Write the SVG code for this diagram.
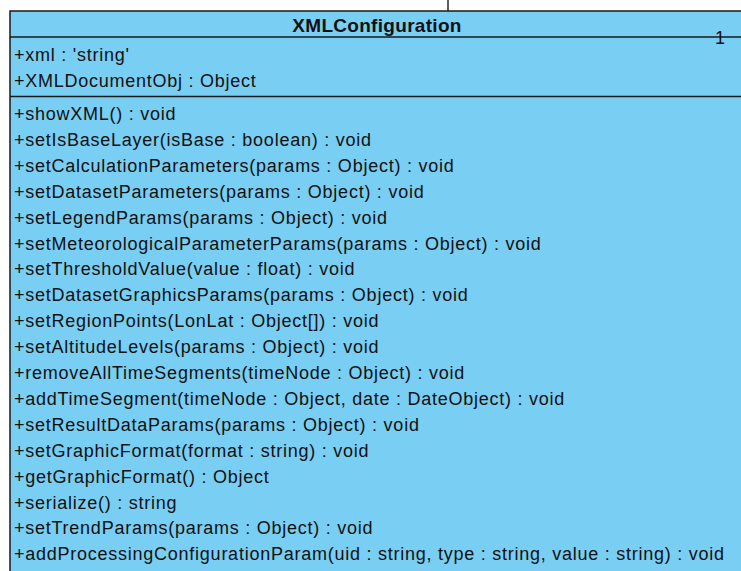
<svg xmlns="http://www.w3.org/2000/svg" width="741" height="571" viewBox="0 0 741 571">
<style>
.t{font-family:"Liberation Sans",Arial,sans-serif;font-size:18px;letter-spacing:0.75px;fill:#111}
.title{font-family:"Liberation Sans",Arial,sans-serif;font-size:19px;font-weight:bold;letter-spacing:0.3px;fill:#111}
.ln{stroke:#1a1a1a;stroke-width:1.4;fill:none}
</style>
<rect width="741" height="571" fill="#ffffff"/>
<g id="XMLConfiguration">
<rect x="10" y="11" width="734" height="570" fill="#79CEF3" stroke="#1a1a1a" stroke-width="1.5"/>
<line class="ln" x1="10" y1="37" x2="744" y2="37"/>
<line class="ln" x1="10" y1="96.5" x2="744" y2="96.5"/>
<text class="title" x="377" y="32" text-anchor="middle">XMLConfiguration</text>
<text class="t" x="14" y="61">+xml : 'string'</text>
<text class="t" x="14" y="86.5">+XMLDocumentObj : Object</text>
<text class="t" x="14" y="120">+showXML() : void</text>
<text class="t" x="14" y="145.9">+setIsBaseLayer(isBase : boolean) : void</text>
<text class="t" x="14" y="171.8">+setCalculationParameters(params : Object) : void</text>
<text class="t" x="14" y="197.7">+setDatasetParameters(params : Object) : void</text>
<text class="t" x="14" y="223.6">+setLegendParams(params : Object) : void</text>
<text class="t" x="14" y="249.5">+setMeteorologicalParameterParams(params : Object) : void</text>
<text class="t" x="14" y="275.4">+setThresholdValue(value : float) : void</text>
<text class="t" x="14" y="301.3">+setDatasetGraphicsParams(params : Object) : void</text>
<text class="t" x="14" y="327.2">+setRegionPoints(LonLat : Object[]) : void</text>
<text class="t" x="14" y="353.1">+setAltitudeLevels(params : Object) : void</text>
<text class="t" x="14" y="379">+removeAllTimeSegments(timeNode : Object) : void</text>
<text class="t" x="14" y="404.9">+addTimeSegment(timeNode : Object, date : DateObject) : void</text>
<text class="t" x="14" y="430.8">+setResultDataParams(params : Object) : void</text>
<text class="t" x="14" y="456.7">+setGraphicFormat(format : string) : void</text>
<text class="t" x="14" y="482.6">+getGraphicFormat() : Object</text>
<text class="t" x="14" y="508.5">+serialize() : string</text>
<text class="t" x="14" y="534.4">+setTrendParams(params : Object) : void</text>
<text class="t" x="14" y="560.3">+addProcessingConfigurationParam(uid : string, type : string, value : string) : void</text>
</g>
<g id="connectors">
<line class="ln" x1="448" y1="0" x2="448" y2="11"/>
<text class="t" x="715" y="44">1</text>
</g>
</svg>
